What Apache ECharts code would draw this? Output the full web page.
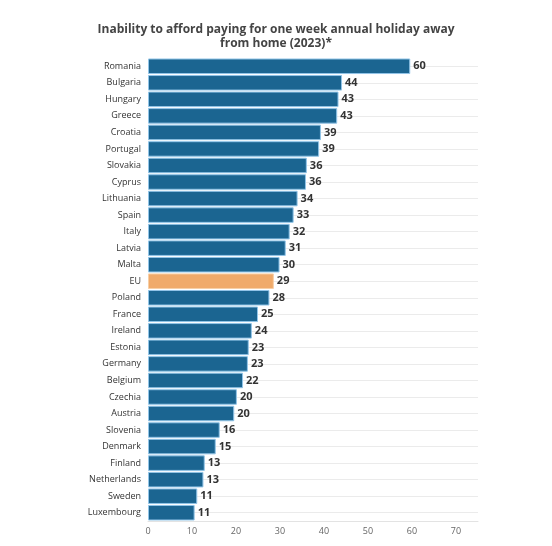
<!DOCTYPE html>
<html>
<head>
<meta charset="utf-8">
<script src="https://cdn.jsdelivr.net/npm/echarts@6/dist/echarts.min.js"></script>
<style>
  html, body { margin: 0; padding: 0; background: #fff; }
  #chart { width: 552px; height: 546px; }
</style>
</head>
<body>
<div id="chart"></div>
<script>
// categories, top to bottom
var countries = ['Romania', 'Bulgaria', 'Hungary', 'Greece', 'Croatia', 'Portugal', 'Slovakia', 'Cyprus',
    'Lithuania', 'Spain', 'Italy', 'Latvia', 'Malta', 'EU', 'Poland', 'France', 'Ireland', 'Estonia',
    'Germany', 'Belgium', 'Czechia', 'Austria', 'Slovenia', 'Denmark', 'Finland', 'Netherlands',
    'Sweden', 'Luxembourg'];
// % of population
var shares = [59.6, 44.1, 43.3, 43.0, 39.3, 38.9, 36.1, 35.9, 34.0, 33.1, 32.2, 31.3, 29.9, 28.6,
    27.6, 25.0, 23.6, 22.9, 22.7, 21.6, 20.2, 19.6, 16.3, 15.4, 12.9, 12.6, 11.2, 10.6];
var xTicks = [0, 10, 20, 30, 40, 50, 60, 70];
var highlight = 'EU';

var chart = echarts.init(document.getElementById('chart'));

// bars, EU in orange
var barData = shares.map(function (v, i) {
    var item = { value: v };
    if (countries[i] === highlight) {
        item.itemStyle = { color: '#f0aa6a', borderColor: '#f7cfa6' };
    }
    return item;
});

var option = {
    animation: false,
    title: {
        text: 'Inability to afford paying for one week annual holiday away\nfrom home (2023)*',
        left: 'center',
        top: 18,
        textStyle: {
            fontFamily: 'Open Sans',
            fontSize: 12,
            fontWeight: 'bold',
            color: '#444',
            lineHeight: 14
        }
    },
    grid: {
        left: 148,
        right: 74,
        top: 58,
        bottom: 25,
        containLabel: false
    },
    xAxis: {
        type: 'value',
        min: 0,
        max: 75,
        interval: 10,
        axisLine: { show: true, lineStyle: { color: '#e3e3e3' } },
        axisTick: { show: false },
        splitLine: { show: false },
        axisLabel: {
            showMaxLabel: false,
            fontFamily: 'Open Sans',
            fontSize: 9,
            color: '#666',
            margin: 6,
            formatter: function (v) { return xTicks.indexOf(v) >= 0 ? String(v) : ''; }
        }
    },
    yAxis: {
        type: 'category',
        data: countries,
        inverse: true,
        axisLine: { show: false },
        axisTick: { show: false },
        splitLine: { show: true, alignWithLabel: true, lineStyle: { color: '#ebebeb', width: 1 } },
        axisLabel: {
            fontFamily: 'Open Sans',
            fontSize: 9,
            color: '#333',
            margin: 7
        }
    },
    series: [{
        type: 'bar',
        data: barData,
        barCategoryGap: '6%',
        itemStyle: {
            color: '#1b6591',
            borderColor: '#92c5e8',
            borderWidth: 1
        },
        label: {
            show: true,
            position: 'right',
            distance: 3,
            fontFamily: 'Open Sans',
            fontSize: 11,
            fontWeight: 'bold',
            color: '#333',
            formatter: function (p) { return Math.round(p.value); }
        }
    }]
};

chart.setOption(option);
</script>
</body>
</html>
